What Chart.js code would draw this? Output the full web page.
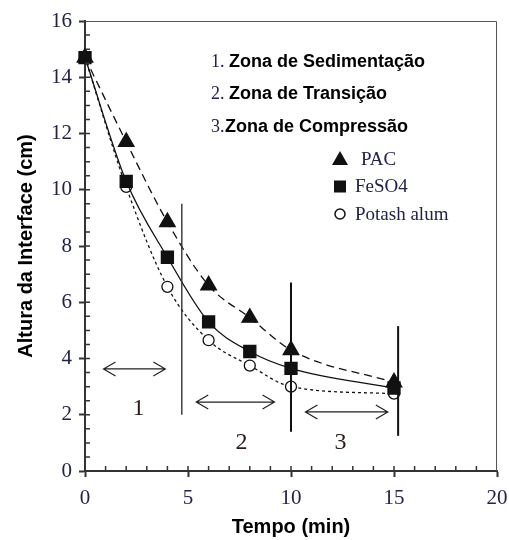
<!DOCTYPE html>
<html>
<head>
<meta charset="utf-8">
<script src="https://cdn.jsdelivr.net/npm/chart.js@4.4.1/dist/chart.umd.min.js"></script>
<style>
  body { margin: 0; background: #fff; }
  #wrap { width: 509px; height: 540px; }
</style>
</head>
<body>
<div id="wrap"><canvas id="sedim"></canvas></div>
<script>
// tempo (min) e altura da interface (cm)
const tempo = [0, 2, 4, 6, 8, 10, 15];
const pac = [14.7, 11.7, 8.85, 6.6, 5.45, 4.3, 3.15];
const feso4 = [14.7, 10.3, 7.6, 5.3, 4.25, 3.65, 2.95];
const potash = [14.7, 10.1, 6.55, 4.65, 3.75, 3.0, 2.75];

const zonas = ["1. Zona de Sedimentação", "2. Zona de Transição", "3.Zona de Compressão"];
// linhas verticais: [x, y inferior, y superior]
const divisoes = [[4.7, 2.0, 9.5], [10, 1.4, 6.7], [15.2, 1.25, 5.15]];
// setas duplas: [x inicio, x fim, y]
const setas = [[0.9, 3.9, 3.63], [5.4, 9.2, 2.45], [10.7, 14.7, 2.1]];
// numeros das zonas: [x, y, texto]
const rotulos = [[2.6, 2.2, "1"], [7.6, 1.0, "2"], [12.4, 1.0, "3"]];

const serif = "'Liberation Serif', 'DejaVu Serif', serif";
const sans = "'Liberation Sans', Arial, sans-serif";
const azul = "#22224a";

function pares(ys) {
  return tempo.map((t, i) => ({ x: t, y: ys[i] }));
}

// desenha caixa, ticks menores, divisoes, setas, textos e legenda
const extras = {
  id: "extras",
  afterDatasetsDraw(chart) {
    const ctx = chart.ctx;
    const a = chart.chartArea;
    const sx = chart.scales.x, sy = chart.scales.y;
    ctx.save();

    // moldura superior e direita
    ctx.strokeStyle = "#555";
    ctx.lineWidth = 1;
    ctx.beginPath();
    ctx.moveTo(a.left, a.top + 0.5);
    ctx.lineTo(a.right - 0.5, a.top + 0.5);
    ctx.lineTo(a.right - 0.5, a.bottom);
    ctx.stroke();

    // ticks para dentro
    ctx.strokeStyle = "#333";
    ctx.lineWidth = 1.5;
    ctx.beginPath();
    for (let v = 0.5; v < 16; v += 0.5) {
      const py = sy.getPixelForValue(v);
      ctx.moveTo(a.left, py);
      ctx.lineTo(a.left + 5, py);
    }
    for (let v = 1; v < 20; v += 1) {
      const px = sx.getPixelForValue(v);
      ctx.moveTo(px, a.bottom);
      ctx.lineTo(px, a.bottom - 5);
    }
    ctx.stroke();

    // divisoes das zonas
    divisoes.forEach((d, i) => {
      ctx.strokeStyle = i === 0 ? "#333" : "#111";
      ctx.lineWidth = i === 0 ? 1.4 : 2;
      ctx.beginPath();
      ctx.moveTo(sx.getPixelForValue(d[0]), sy.getPixelForValue(d[1]));
      ctx.lineTo(sx.getPixelForValue(d[0]), sy.getPixelForValue(d[2]));
      ctx.stroke();
    });

    // setas
    ctx.strokeStyle = "#222";
    ctx.lineWidth = 1.2;
    setas.forEach(s => {
      const x1 = sx.getPixelForValue(s[0]), x2 = sx.getPixelForValue(s[1]);
      const py = sy.getPixelForValue(s[2]);
      ctx.beginPath();
      ctx.moveTo(x1, py); ctx.lineTo(x2, py);
      ctx.moveTo(x1 + 12, py - 7); ctx.lineTo(x1, py); ctx.lineTo(x1 + 12, py + 7);
      ctx.moveTo(x2 - 12, py - 7); ctx.lineTo(x2, py); ctx.lineTo(x2 - 12, py + 7);
      ctx.stroke();
    });

    ctx.fillStyle = "#2a1a1a";
    ctx.font = "24px " + serif;
    ctx.textAlign = "center";
    ctx.textBaseline = "middle";
    rotulos.forEach(r => {
      ctx.fillText(r[2], sx.getPixelForValue(r[0]), sy.getPixelForValue(r[1]));
    });

    // textos das zonas
    ctx.textAlign = "left";
    ctx.fillStyle = "#000";
    zonas.forEach((z, i) => {
      const num = z.slice(0, 2);
      const resto = z.slice(2).trimStart();
      const y = 62 + i * 32.5;
      ctx.font = "18px " + serif;
      ctx.fillStyle = azul;
      ctx.fillText(num, 211, y);
      ctx.font = "bold 18px " + sans;
      ctx.fillStyle = "#000";
      ctx.fillText(resto, i === 2 ? 225 : 229, y);
    });

    // legenda
    const items = chart.data.datasets.slice(0, 3);
    items.forEach((ds, i) => {
      const cx = 340, cy = 159 + i * 27.5;
      ctx.fillStyle = "#111";
      ctx.strokeStyle = "#111";
      ctx.lineWidth = 1.5;
      ctx.beginPath();
      if (ds.pointStyle === "triangle") {
        ctx.moveTo(cx, cy - 8); ctx.lineTo(cx + 8, cy + 6); ctx.lineTo(cx - 8, cy + 6);
        ctx.closePath(); ctx.fill();
      } else if (ds.pointStyle === "rect") {
        ctx.fillRect(cx - 6, cy - 6, 12, 12);
      } else {
        ctx.arc(cx, cy, 5, 0, Math.PI * 2);
        ctx.stroke();
      }
      ctx.font = "19px " + serif;
      ctx.fillStyle = azul;
      ctx.fillText(ds.label, i === 0 ? 361 : 355, cy + 1);
    });

    ctx.restore();
  }
};

new Chart(document.getElementById("sedim"), {
  type: "line",
  data: {
    datasets: [
      {
        label: "PAC",
        data: pares(pac),
        borderColor: "#111",
        backgroundColor: "#111",
        borderWidth: 1.3,
        borderDash: [8, 5],
        pointStyle: "triangle",
        pointRadius: 9,
        order: 2,
      },
      {
        label: "FeSO4",
        data: pares(feso4),
        borderColor: "#111",
        backgroundColor: "#111",
        borderWidth: 1.3,
        pointStyle: "rect",
        pointRadius: 8.5,
        order: 1,
      },
      {
        label: "Potash alum",
        data: pares(potash),
        borderColor: "#111",
        backgroundColor: "#fff",
        borderWidth: 1.3,
        borderDash: [3, 3],
        pointStyle: "circle",
        pointRadius: 5.5,
        pointBorderWidth: 1.3,
        order: 3,
      },
    ],
  },
  options: {
    responsive: true,
    maintainAspectRatio: false,
    animation: false,
    clip: false,
    layout: { padding: { top: 21, right: 0, left: 0, bottom: 0 } },
    elements: {
      line: { cubicInterpolationMode: "monotone" },
    },
    scales: {
      x: {
        type: "linear",
        min: 0,
        max: 20,
        afterFit: s => { s.height = 69; s.paddingRight = 12; },
        ticks: {
          stepSize: 5,
          padding: 9,
          color: azul,
          font: { family: serif, size: 21 },
        },
        grid: { drawOnChartArea: false, tickLength: 6, tickColor: "#333", tickWidth: 2 },
        border: { color: "#333", width: 2 },
        title: {
          display: true,
          text: "Tempo (min)",
          color: "#000",
          font: { family: sans, size: 20, weight: "bold" },
          padding: { top: 0, bottom: 1 },
        },
      },
      y: {
        min: 0,
        max: 16,
        afterFit: s => { s.width = 85; },
        ticks: {
          stepSize: 2,
          padding: 7,
          color: azul,
          font: { family: serif, size: 21 },
        },
        grid: { drawOnChartArea: false, tickLength: 6, tickColor: "#333", tickWidth: 2 },
        border: { color: "#333", width: 2 },
        title: {
          display: true,
          text: "Altura da Interface (cm)",
          color: "#000",
          font: { family: sans, size: 20, weight: "bold" },
          padding: { top: 14, bottom: 0 },
        },
      },
    },
    plugins: {
      legend: { display: false },
      tooltip: { enabled: false },
    },
  },
  plugins: [extras],
});
</script>
</body>
</html>
